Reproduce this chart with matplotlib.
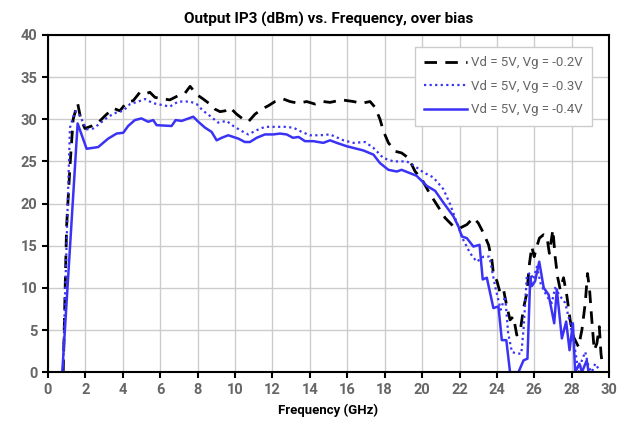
import matplotlib
matplotlib.use("Agg")
import matplotlib.pyplot as plt

# Vd = 5V, Vg = -0.2V (dashed black)
freq_a = [0.82, 1.0, 1.18, 1.35, 1.59, 1.76, 1.98, 2.34, 2.69, 3.05, 3.49, 3.85, 4.21, 4.56,
          4.92, 5.19, 5.45, 5.72, 6.17, 6.52, 6.97, 7.33, 7.6, 7.86, 8.04, 8.3, 8.66, 8.93,
          9.2, 9.47, 9.73, 10.09, 10.44, 10.71, 11.07, 11.43, 11.78, 12.14, 12.58, 12.94,
          13.39, 13.83, 14.28, 14.72, 15.08, 15.7, 16.33, 16.77, 17.22, 17.49, 17.75, 17.93,
          18.2, 18.56, 18.91, 19.27, 19.63, 19.98, 20.43, 20.78, 21.23, 21.67, 22.03, 22.39,
          22.74, 23.0, 23.28, 23.55, 23.73, 23.81, 24.0, 24.17, 24.35, 24.53, 24.7, 24.88,
          25.06, 25.24, 25.42, 25.6, 25.74, 25.86, 25.99, 26.13, 26.27, 26.49, 26.67, 26.8,
          26.99, 27.11, 27.24, 27.38, 27.56, 27.74, 27.91, 28.09, 28.36, 28.54, 28.72, 28.84,
          28.95, 29.07, 29.2, 29.34, 29.47, 29.56, 29.65]
oip3_a = [0.0, 17.3, 24.4, 30.0, 31.9, 30.0, 28.9, 29.2, 29.6, 30.4, 31.3, 31.0, 32.0, 32.2,
          33.2, 33.0, 33.2, 32.6, 32.4, 32.3, 32.8, 33.1, 33.9, 33.2, 32.8, 32.4, 31.8, 31.2,
          30.9, 31.0, 31.4, 30.6, 30.0, 29.7, 30.6, 31.2, 31.6, 32.1, 32.4, 32.1,
          31.9, 32.1, 31.8, 32.1, 32.0, 32.3, 32.1, 31.9, 32.1, 31.4, 30.0, 28.6,
          27.2, 26.2, 26.0, 25.4, 23.8, 22.9, 21.1, 19.9, 18.3, 17.3, 17.1, 17.5,
          18.3, 17.7, 16.5, 15.1, 13.3, 11.7, 10.8, 9.4, 9.8, 7.8, 6.2, 6.6,
          4.4, 4.8, 7.6, 9.4, 12.9, 14.9, 13.7, 14.9, 15.9, 16.3, 16.1, 14.1,
          16.9, 13.7, 11.3, 9.8, 11.2, 9.0, 6.2, 4.2, 3.0, 5.0, 8.2, 11.7,
          9.8, 6.2, 2.6, 3.4, 5.4, 2.2, 0.6]

# Vd = 5V, Vg = -0.3V (dotted blue)
freq_b = [0.8, 1.18, 1.44, 1.62, 2.07, 2.42, 2.78, 3.22, 3.67, 4.03, 4.39, 4.83, 5.19, 5.63,
          6.08, 6.52, 6.97, 7.6, 7.95, 8.3, 8.66, 9.1, 9.55, 9.91, 10.36, 10.71, 11.16, 11.6,
          12.14, 12.67, 13.12, 13.57, 14.0, 14.55, 15.08, 15.8, 16.33, 16.95, 17.4, 17.93,
          18.47, 19.18, 19.63, 20.07, 20.6, 21.14, 21.5, 21.86, 22.2, 22.57, 22.92, 23.28,
          23.6, 23.9, 24.2, 24.44, 24.6, 24.8, 25.06, 25.3, 25.42, 25.6, 25.78, 25.95,
          26.13, 26.35, 26.67, 26.93, 27.11, 27.38, 27.65, 27.91, 28.18, 28.36, 28.54, 28.72,
          28.9, 29.07, 29.25, 29.43]
oip3_b = [0.0, 29.0, 30.9, 30.8, 28.8, 28.9, 29.5, 30.3, 30.8, 31.0, 31.8, 32.1, 32.4, 31.9,
          31.7, 31.5, 32.1, 32.1, 31.8, 31.0, 30.4, 29.6, 29.8, 29.2, 28.6, 28.2, 28.7, 29.1,
          29.1, 29.1, 29.0, 28.5, 28.1, 28.1, 28.2, 27.5, 27.2, 27.3, 26.6, 25.4,
          25.0, 25.0, 24.4, 23.7, 23.1, 21.7, 19.9, 17.7, 15.7, 14.1, 13.1, 13.7,
          13.7, 10.2, 7.4, 9.0, 4.6, 2.4, 2.2, 2.2, 5.0, 11.5, 11.8, 11.0,
          12.5, 10.4, 9.0, 8.2, 10.0, 9.0, 8.2, 5.8, 2.6, 0.0, 1.4, 2.4,
          0.6, 0.0, 1.0, 0.4]

# Vd = 5V, Vg = -0.4V (solid blue)
freq_c = [0.77, 1.59, 2.07, 2.69, 3.22, 3.67, 4.03, 4.29, 4.65, 5.0, 5.36, 5.63, 5.81, 6.61,
          6.83, 7.15, 7.77, 8.04, 8.4, 8.75, 9.02, 9.29, 9.64, 10.18, 10.53, 10.8, 11.16,
          11.6, 12.05, 12.4, 12.76, 13.1, 13.4, 13.74, 14.19, 14.72, 15.08, 15.44, 15.97,
          16.86, 17.4, 17.75, 18.2, 18.65, 18.9, 19.36, 19.7, 20.25, 20.7, 21.14, 21.67,
          21.94, 22.12, 22.39, 22.74, 23.07, 23.24, 23.46, 23.81, 24.08, 24.26, 24.5, 24.7,
          25.15, 25.42, 25.63, 25.78, 25.86, 26.04, 26.26, 26.5, 26.76, 27.06, 27.2, 27.47,
          27.7, 27.88, 28.06, 28.18, 28.41, 28.54, 28.8, 28.9]
oip3_c = [0.0, 29.5, 26.5, 26.7, 27.7, 28.3, 28.4, 29.2, 29.9, 30.1, 29.7, 29.9, 29.3, 29.2,
          29.9, 29.8, 30.3, 29.7, 29.0, 28.5, 27.5, 27.8, 28.1, 27.7, 27.3, 27.3, 27.8,
          28.2, 28.2, 28.3, 28.2, 27.8, 27.9, 27.4, 27.4, 27.2, 27.5, 27.2, 26.8,
          26.3, 25.8, 24.8, 24.0, 23.8, 24.0, 23.6, 23.3, 22.1, 21.5, 20.1, 18.5,
          17.3, 16.1, 15.9, 14.9, 15.1, 11.0, 11.2, 7.6, 7.8, 3.8, 3.8, 0.0,
          0.0, 1.4, 1.6, 11.3, 10.2, 10.8, 13.1, 10.0, 9.2, 5.8, 9.8, 4.0,
          6.0, 2.6, 5.8, 0.0, 1.0, 0.0, 1.4, 0.0]

labels = ["Vd = 5V, Vg = -0.2V", "Vd = 5V, Vg = -0.3V", "Vd = 5V, Vg = -0.4V"]
x_ticks = list(range(0, 31, 2))
y_ticks = list(range(0, 41, 5))

BLUE = "#3a33f5"
plt.rcParams["font.family"] = ["Roboto", "DejaVu Sans"]

fig = plt.figure(figsize=(6.3, 4.21), dpi=100)
ax = fig.add_axes([0.076, 0.116, 0.891, 0.801])

ax.plot(freq_a, oip3_a, color="black", lw=2.0, linestyle=(0, (4.5, 3)), label=labels[0])
ax.plot(freq_b, oip3_b, color=BLUE, lw=1.6, linestyle=(0, (1, 1.5)), label=labels[1])
ax.plot(freq_c, oip3_c, color=BLUE, lw=1.8, label=labels[2])

ax.set_xlim(0, 30)
ax.set_ylim(0, 40)
ax.set_xticks(x_ticks)
ax.set_yticks(y_ticks)
ax.grid(color="#cccccc", lw=1)
ax.set_axisbelow(True)
for s in ax.spines.values():
    s.set_linewidth(1.5)
ax.tick_params(direction="out", length=4, width=1.5, labelsize=10.5, labelcolor="#666666")
for lbl in ax.get_xticklabels() + ax.get_yticklabels():
    lbl.set_fontweight("bold")

ax.set_title("Output IP3 (dBm) vs. Frequency, over bias", fontsize=11, fontweight="bold", pad=8)
ax.set_xlabel("Frequency (GHz)", fontsize=9.5, fontweight="bold", labelpad=5)

leg = ax.legend(loc="upper right", bbox_to_anchor=(0.97, 0.964), borderaxespad=0,
                fontsize=9.5, fancybox=False, framealpha=1, edgecolor="#cccccc",
                handlelength=3.3, labelspacing=0.8, borderpad=0.7, handletextpad=0.3)
for t in leg.get_texts():
    t.set_color("#666666")

fig.savefig("out.png", dpi=100)
